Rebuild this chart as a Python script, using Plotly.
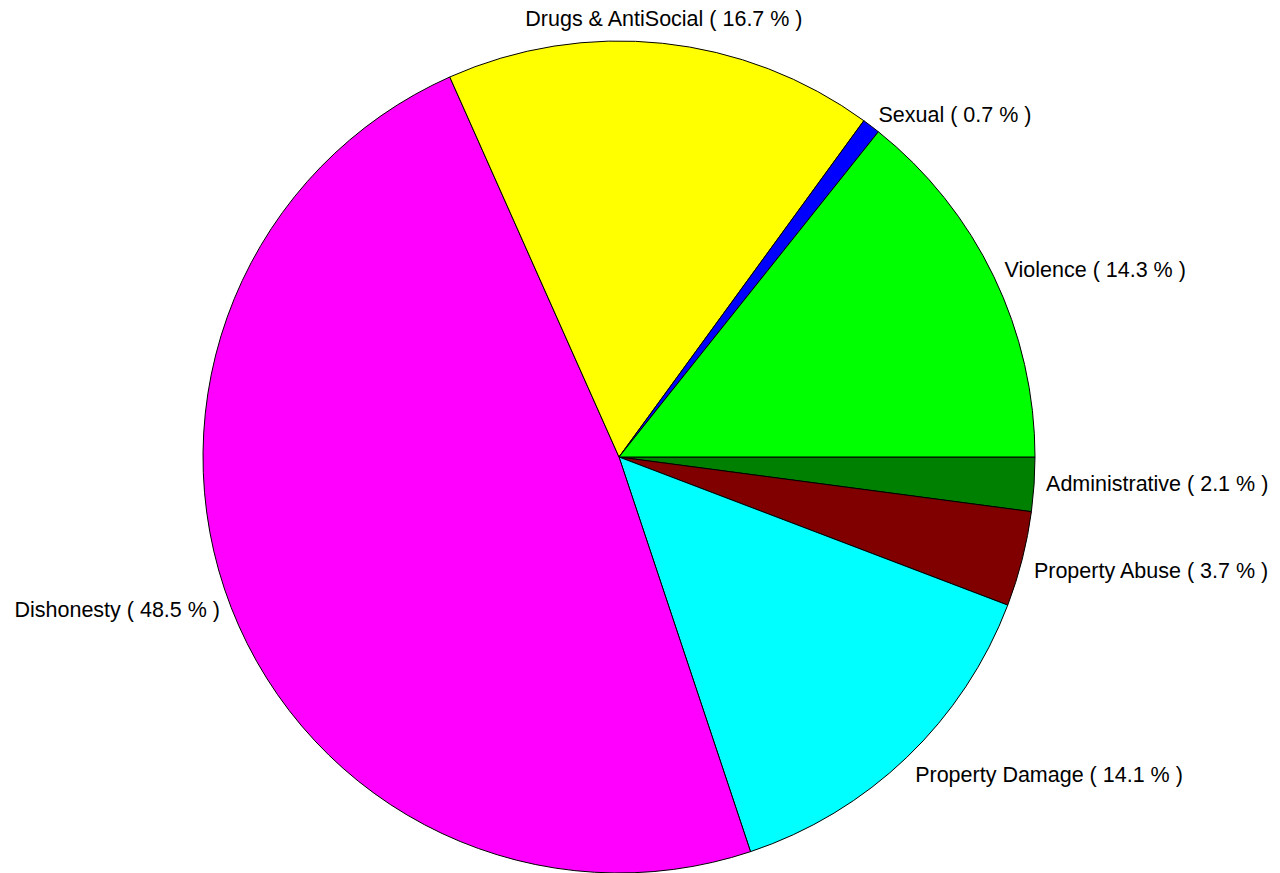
import math
import plotly.graph_objects as go

# Listed clockwise starting from 3 o'clock
categories = ["Administrative", "Property Abuse", "Property Damage", "Dishonesty",
              "Drugs & AntiSocial", "Sexual", "Violence"]
percentages = [2.1, 3.7, 14.1, 48.5, 16.7, 0.7, 14.3]
colors = ["#008000", "#800000", "#00FFFF", "#FF00FF", "#FFFF00", "#0000FF", "#00FF00"]
label_positions = ["middle right", "bottom right", "bottom right", "middle left",
                   "top center", "middle right", "middle right"]

labels_text = [f"{c} ( {p} % )" for c, p in zip(categories, percentages)]

# page body has an 8px margin, so work in figure pixels
W, H = 1280, 873
cx, cy = 611, 449      # pie centre in figure pixels (from top-left)
r = 416                # pie radius
r_lab = 428            # radius of the ring the labels hang on

# mid angle of each slice, degrees clockwise from 3 o'clock
total = sum(percentages)
mid_theta = []
acc = 0.0
for p in percentages:
    mid_theta.append((acc + p / 2) / total * 360)
    acc += p

lab_x = [r_lab * math.cos(math.radians(t)) for t in mid_theta]
lab_y = [-r_lab * math.sin(math.radians(t)) for t in mid_theta]

fig = go.Figure()

fig.add_trace(go.Pie(
    labels=categories,
    values=percentages,
    textinfo="none",
    sort=False,
    direction="clockwise",
    rotation=90,
    marker=dict(colors=colors, line=dict(color="black", width=1)),
    showlegend=False,
    hoverinfo="label+percent",
    domain=dict(x=[(cx - r) / W, (cx + r) / W],
                y=[(H - cy - r) / H, (H - cy + r) / H]),
))

fig.add_trace(go.Scatter(
    x=lab_x,
    y=lab_y,
    mode="text",
    text=labels_text,
    textposition=label_positions,
    textfont=dict(family="Liberation Sans, Arial, sans-serif", size=21.5, color="black"),
    cliponaxis=False,
    showlegend=False,
    hoverinfo="skip",
))

fig.update_layout(
    width=W, height=H,
    margin=dict(l=0, r=0, t=0, b=0),
    paper_bgcolor="white",
    plot_bgcolor="rgba(0,0,0,0)",
    xaxis=dict(range=[-cx, W - cx], visible=False, fixedrange=True),
    yaxis=dict(range=[-(H - cy), cy], visible=False, fixedrange=True),
)

fig.write_html("out.html")
